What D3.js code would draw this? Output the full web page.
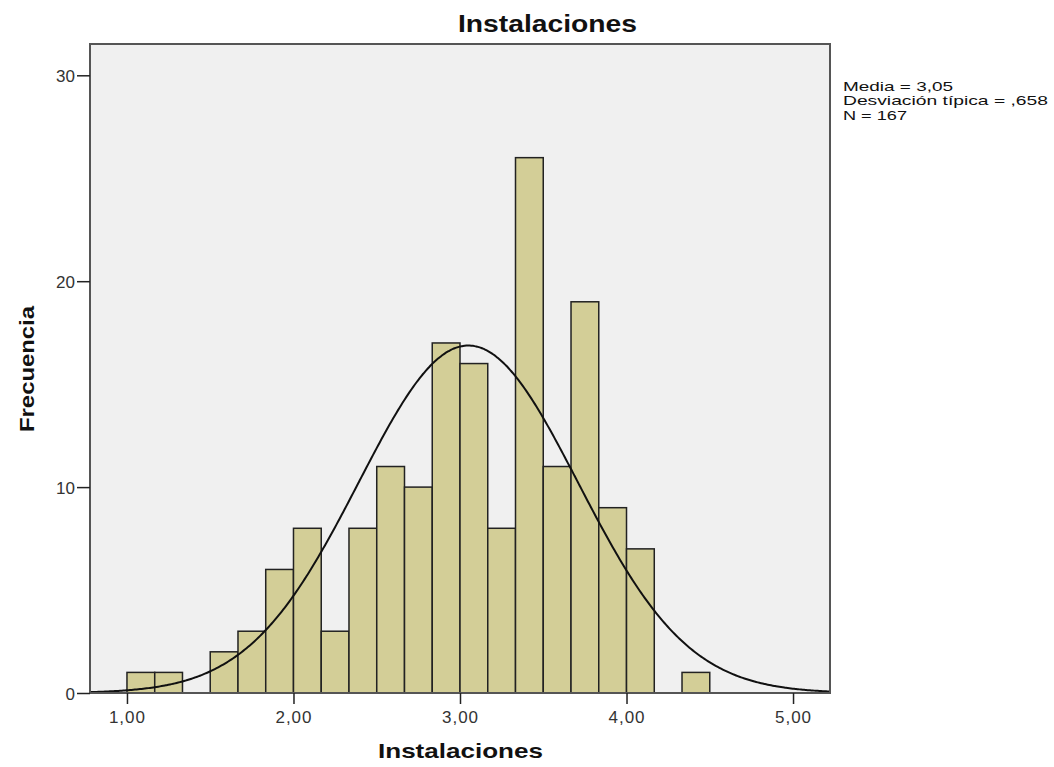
<!DOCTYPE html>
<html><head><meta charset="utf-8">
<script src="https://cdn.jsdelivr.net/npm/d3@7"></script>
<style>body{margin:0;background:#fff;} text{font-family:"Liberation Sans",Arial,sans-serif;}</style>
</head><body>
<svg id="c" width="1054" height="767"></svg>
<script>
const binStarts = [1.0,1.1667,1.3333,1.5,1.6667,1.8333,2.0,2.1667,2.3333,2.5,2.6667,2.8333,3.0,3.1667,3.3333,3.5,3.6667,3.8333,4.0,4.1667,4.3333];
const binWidth = 1/6;
const counts = [1,1,0,2,3,6,8,3,8,11,10,17,16,8,26,11,19,9,7,0,1];
const xTicks = [1,2,3,4,5];
const yTicks = [0,10,20,30];
const mean = 3.05, sd = 0.658, n = 167;
const statsLines = ["Media = 3,05","Desviación típica = ,658","N = 167"];

const svg = d3.select("#c");
const L=90, R=830, T=44, B=693;
const x = d3.scaleLinear().domain([0.778,5.222]).range([L,R]);
const y = d3.scaleLinear().domain([0,31.52]).range([B,T]);

svg.append("rect").attr("x",L).attr("y",T).attr("width",R-L).attr("height",B-T).attr("fill","#f0f0f0");

const bins = binStarts.map((s,i)=>({s, c:counts[i]})).filter(d=>d.c>0);
svg.append("g").selectAll("rect").data(bins).join("rect")
  .attr("x",d=>x(d.s)).attr("width",d=>x(d.s+binWidth)-x(d.s))
  .attr("y",d=>y(d.c)).attr("height",d=>y(0)-y(d.c))
  .attr("fill","#d3ce97").attr("stroke","#222").attr("stroke-width",1.5);

const pts = d3.range(0.778,5.2221,0.01).map(v=>[v, n*binWidth*Math.exp(-0.5*((v-mean)/sd)**2)/(sd*Math.sqrt(2*Math.PI))]);
svg.append("path").datum(pts).attr("fill","none").attr("stroke","#111").attr("stroke-width",2)
  .attr("d", d3.line().x(d=>x(d[0])).y(d=>y(d[1])).curve(d3.curveBasis));

svg.append("rect").attr("x",L).attr("y",T).attr("width",R-L).attr("height",B-T).attr("fill","none").attr("stroke","#555").attr("stroke-width",2);

const xa = svg.append("g").attr("transform",`translate(0,${B})`)
  .call(d3.axisBottom(x).tickValues(xTicks).tickSize(11).tickSizeOuter(0).tickFormat(d=>d3.format(".2f")(d).replace(".",",")));
xa.select(".domain").remove();
xa.selectAll("line").attr("stroke","#222").attr("stroke-width",1.5);
xa.selectAll("text").attr("font-size",17).attr("fill","#333").attr("letter-spacing",1).attr("y",30).attr("dy",null);

const ya = svg.append("g").attr("transform",`translate(${L},0)`)
  .call(d3.axisLeft(y).tickValues(yTicks).tickSize(13).tickSizeOuter(0).tickFormat(d3.format("d")));
ya.select(".domain").remove();
ya.selectAll("line").attr("stroke","#222").attr("stroke-width",1.5);
ya.selectAll("text").attr("font-size",17).attr("fill","#333").attr("x",-15).attr("dy","0.36em");

svg.append("text").attr("x",458).attr("y",32).attr("font-size",23).attr("font-weight","bold").attr("fill","#111")
  .attr("textLength",179).attr("lengthAdjust","spacingAndGlyphs").text("Instalaciones");
svg.append("text").attr("x",378).attr("y",758).attr("font-size",21).attr("font-weight","bold").attr("fill","#111")
  .attr("textLength",165).attr("lengthAdjust","spacingAndGlyphs").text("Instalaciones");
svg.append("text").attr("transform","translate(34,432) rotate(-90)").attr("font-size",21).attr("font-weight","bold").attr("fill","#111")
  .attr("textLength",126).attr("lengthAdjust","spacingAndGlyphs").text("Frecuencia");

const statW = [110,205,64];
const statY = [90.5,105,119.5];
svg.append("g").selectAll("text").data(statsLines).join("text")
  .attr("x",843).attr("y",(d,i)=>statY[i]).attr("font-size",13.5).attr("fill","#111")
  .attr("textLength",(d,i)=>statW[i]).attr("lengthAdjust","spacingAndGlyphs").text(d=>d);
</script>
</body></html>
